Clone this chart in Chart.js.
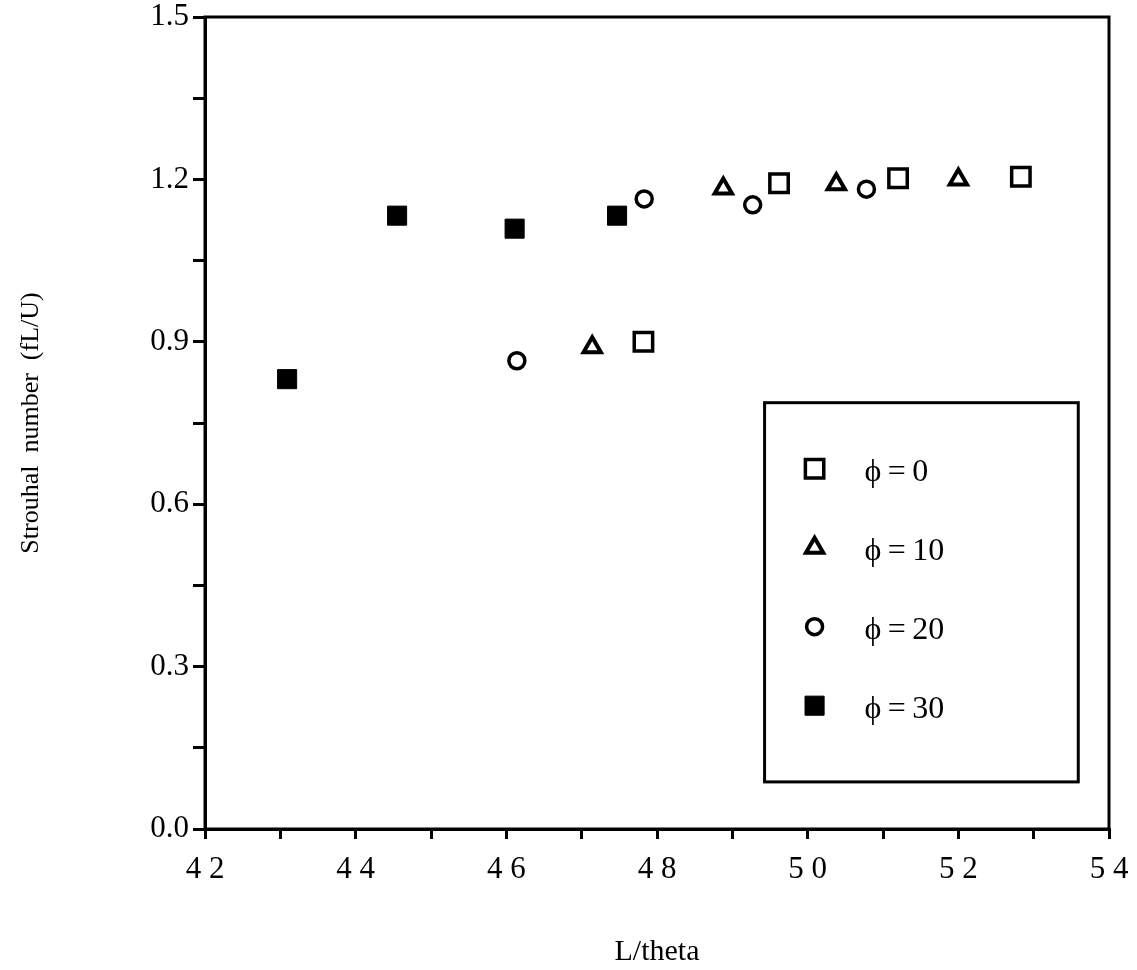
<!DOCTYPE html>
<html lang="en">
<head>
<meta charset="UTF-8">
<title>Strouhal number vs L/theta</title>
<script src="https://cdn.jsdelivr.net/npm/chart.js"></script>
<style>
  html, body { margin: 0; padding: 0; background: #fff; }
  #wrap { width: 1137px; height: 970px; }
</style>
</head>
<body>
<div id="wrap"><canvas id="chart" width="1137" height="970"></canvas></div>
<script>
// data
const phi0X = [47.82, 49.62, 51.20, 52.83];
const phi0Y = [0.900, 1.193, 1.202, 1.205];
const phi10X = [47.14, 48.88, 50.38, 52.00];
const phi10Y = [0.890, 1.183, 1.191, 1.200];
const phi20X = [46.14, 47.83, 49.27, 50.78];
const phi20Y = [0.865, 1.164, 1.153, 1.182];
const phi30X = [43.09, 44.55, 46.11, 47.47];
const phi30Y = [0.831, 1.133, 1.109, 1.133];
const legendLabels = ['\u03D5\u2009=\u20090', '\u03D5\u2009=\u200910', '\u03D5\u2009=\u200920', '\u03D5\u2009=\u200930'];

const serif = '"Liberation Serif", "Times New Roman", serif';

function pts(xs, ys) {
  return xs.map((x, i) => ({ x: x, y: ys[i] }));
}

// full box around plot area
const frame = {
  id: 'frame',
  afterDraw(chart) {
    const a = chart.chartArea, ctx = chart.ctx;
    ctx.save();
    ctx.strokeStyle = '#000';
    ctx.lineWidth = 3;
    ctx.strokeRect(a.left, a.top, a.right - a.left, a.bottom - a.top);
    ctx.restore();
  }
};

// legend box inside the plot, lower right
const boxLegend = {
  id: 'boxLegend',
  afterDraw(chart) {
    const a = chart.chartArea, ctx = chart.ctx;
    const w = a.right - a.left, h = a.bottom - a.top;
    const x0 = a.left + 0.619 * w, x1 = a.left + 0.966 * w;
    const y0 = a.top + 0.475 * h, y1 = a.top + 0.942 * h;
    ctx.save();
    ctx.fillStyle = '#fff';
    ctx.fillRect(x0, y0, x1 - x0, y1 - y0);
    ctx.strokeStyle = '#000';
    ctx.lineWidth = 3;
    ctx.strokeRect(x0, y0, x1 - x0, y1 - y0);
    chart.data.datasets.forEach((ds, i) => {
      const cy = y0 + 66 + i * 79;
      const mx = x0 + 50;
      ctx.fillStyle = ds.backgroundColor;
      ctx.strokeStyle = ds.borderColor;
      ctx.lineWidth = ds.borderWidth;
      Chart.helpers.drawPoint(ctx, {
        pointStyle: ds.pointStyle,
        radius: ds.pointRadius,
        borderWidth: ds.borderWidth
      }, mx, cy);
      ctx.fillStyle = '#000';
      ctx.font = '32px ' + serif;
      ctx.textBaseline = 'middle';
      ctx.textAlign = 'left';
      ctx.fillText(legendLabels[i], x0 + 100, cy + 4);
    });
    ctx.restore();
  }
};

new Chart(document.getElementById('chart'), {
  type: 'scatter',
  data: {
    datasets: [
      { label: legendLabels[0], data: pts(phi0X, phi0Y), pointStyle: 'rect', pointRadius: 13,
        backgroundColor: '#fff', borderColor: '#000', borderWidth: 3.5 },
      { label: legendLabels[1], data: pts(phi10X, phi10Y), pointStyle: 'triangle', pointRadius: 10,
        backgroundColor: '#fff', borderColor: '#000', borderWidth: 4 },
      { label: legendLabels[2], data: pts(phi20X, phi20Y), pointStyle: 'circle', pointRadius: 8,
        backgroundColor: '#fff', borderColor: '#000', borderWidth: 3.5 },
      { label: legendLabels[3], data: pts(phi30X, phi30Y), pointStyle: 'rect', pointRadius: 13.5,
        backgroundColor: '#000', borderColor: '#000', borderWidth: 1 }
    ]
  },
  options: {
    responsive: false,
    animation: false,
    layout: { padding: { top: 17, right: 28, left: 0, bottom: 0 } },
    plugins: {
      legend: { display: false },
      tooltip: { enabled: false }
    },
    scales: {
      x: {
        type: 'linear',
        min: 42, max: 54,
        afterFit: s => { s.height = 141; s.paddingLeft = 0; s.paddingRight = 0; },
        border: { display: true, color: '#000', width: 3 },
        grid: { drawOnChartArea: false, drawTicks: true, tickLength: 10, color: '#000', lineWidth: 3 },
        ticks: {
          stepSize: 1,
          color: '#000',
          font: { family: serif, size: 31 },
          padding: 12,
          maxRotation: 0,
          autoSkip: false,
          callback: v => (v % 2 === 0 ? String(v).split('').join(' ') : '')
        },
        title: {
          display: true,
          text: 'L/theta',
          color: '#000',
          font: { family: serif, size: 30 },
          padding: { top: 30, bottom: 0 }
        }
      },
      y: {
        type: 'linear',
        min: 0, max: 1.5,
        afterFit: s => { s.width = 205; s.paddingTop = 0; s.paddingBottom = 0; },
        border: { display: true, color: '#000', width: 3 },
        grid: { drawOnChartArea: false, drawTicks: true, tickLength: 12, color: '#000', lineWidth: 3 },
        ticks: {
          stepSize: 0.15,
          color: '#000',
          font: { family: serif, size: 31 },
          padding: 4,
          autoSkip: false,
          callback: v => (Math.round(v / 0.15) % 2 === 0 ? v.toFixed(1) : '')
        },
        title: {
          display: true,
          text: 'Strouhal  number  (fL/U)',
          color: '#000',
          font: { family: serif, size: 26 },
          padding: { top: 16, bottom: 0 }
        }
      }
    }
  },
  plugins: [frame, boxLegend]
});
</script>
</body>
</html>
